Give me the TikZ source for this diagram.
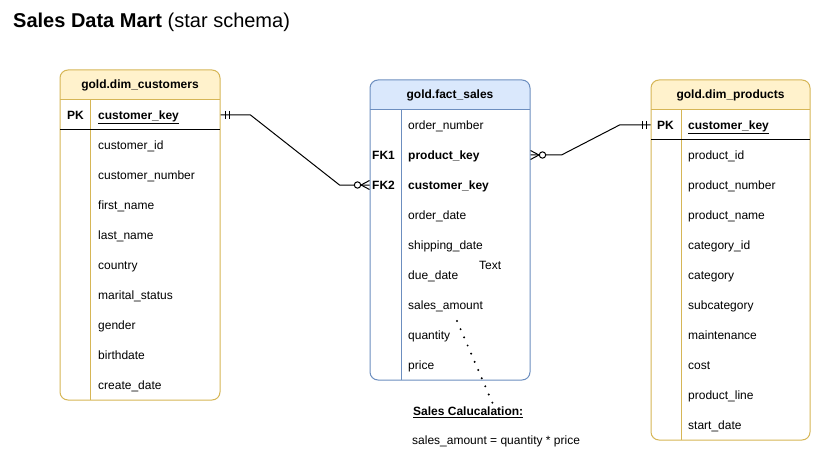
\documentclass[tikz,border=0pt]{standalone}
\usepackage{fontspec}
\setmainfont{Liberation Sans}
\usetikzlibrary{calc}
\definecolor{yfill}{HTML}{FFF2CC}
\definecolor{ybord}{HTML}{D6B656}
\definecolor{bfill}{HTML}{DAE8FC}
\definecolor{bbord}{HTML}{6C8EBF}
\tikzset{
  rowtxt/.style={anchor=base west, inner sep=0pt, font=\fontsize{12}{14}\selectfont},
  keytxt/.style={rowtxt, font=\fontsize{12}{14}\selectfont\bfseries},
  headtxt/.style={inner sep=0pt, font=\fontsize{12}{14}\selectfont\bfseries},
  tablebox/.style={rounded corners=8pt, inner sep=0pt, line width=1pt},
  rel/.style={line width=1pt, black},
}
\begin{document}
\begin{tikzpicture}[x=1pt, y=-1pt]
\useasboundingbox[fill=white] (0,0) rectangle (818,449);

% title
\node[anchor=base west, inner sep=0pt, font=\fontsize{20}{24}\selectfont] (title) at (13,27.5)
  {\textbf{Sales Data Mart} (star schema)};

% ---------- gold.dim_customers ----------
\begin{scope}
  \clip[rounded corners=8pt] (60,70) rectangle (220,400);
  \fill[yfill] (60,70) rectangle (220,100);
\end{scope}
\node[tablebox, draw=ybord, minimum width=160pt, minimum height=330pt] (cust) at (140,235) {};
\draw[ybord, line width=1pt] (60,100) -- (220,100);
\draw[ybord, line width=1pt] (90,100) -- (90,400);
\draw[black, line width=1pt] (60,130) -- (220,130);
\node[headtxt] (cust-h) at (140,85) {gold.dim\_customers};
\node[keytxt] (cust-pk) at (67,119.5) {PK};
\node[keytxt] (cust-key) at (98,119.5) {\underline{customer\_key}};
\foreach \t [count=\i] in {customer\_id, customer\_number, first\_name, last\_name, country,
  marital\_status, gender, birthdate, create\_date}
  \node[rowtxt] (cust-r\i) at (98,119.5+30*\i) {\t};

% ---------- gold.fact_sales ----------
\begin{scope}
  \clip[rounded corners=8pt] (370,80) rectangle (530,380);
  \fill[bfill] (370,80) rectangle (530,110);
\end{scope}
\node[tablebox, draw=bbord, minimum width=160pt, minimum height=300pt] (fact) at (450,230) {};
\draw[bbord, line width=1pt] (370,110) -- (530,110);
\draw[bbord, line width=1pt] (401,110) -- (401,380);
\node[headtxt] (fact-h) at (450,95) {gold.fact\_sales};
\node[rowtxt] (fact-r1) at (408,129.5) {order\_number};
\node[keytxt] (fact-fk1) at (372,159.5) {FK1};
\node[keytxt] (fact-pkey) at (408,159.5) {product\_key};
\node[keytxt] (fact-fk2) at (372,189.5) {FK2};
\node[keytxt] (fact-ckey) at (408,189.5) {customer\_key};
\foreach \t [count=\i] in {order\_date, shipping\_date, due\_date, sales\_amount, quantity, price}
  \node[rowtxt] (fact-s\i) at (408,189.5+30*\i) {\t};

% ---------- gold.dim_products ----------
\begin{scope}
  \clip[rounded corners=8pt] (651,80) rectangle (810,440);
  \fill[yfill] (651,80) rectangle (810,110);
\end{scope}
\node[tablebox, draw=ybord, minimum width=159pt, minimum height=360pt] (prod) at (730.5,260) {};
\draw[ybord, line width=1pt] (651,110) -- (810,110);
\draw[ybord, line width=1pt] (681,110) -- (681,440);
\draw[black, line width=1pt] (651,140) -- (810,140);
\node[headtxt] (prod-h) at (730.5,95) {gold.dim\_products};
\node[keytxt] (prod-pk) at (657,129.5) {PK};
\node[keytxt] (prod-key) at (688,129.5) {\underline{customer\_key}};
\foreach \t [count=\i] in {product\_id, product\_number, product\_name, category\_id, category,
  subcategory, maintenance, cost, product\_line, start\_date}
  \node[rowtxt] (prod-r\i) at (688,129.5+30*\i) {\t};

% loose label
\node[rowtxt] (lbl) at (479,269) {Text};

% ---------- relationships ----------
% customers (one) -- fact_sales (zero or many)
\coordinate (c1) at (cust.east |- 0,115);
\coordinate (f2) at (fact.west |- 0,185);
\draw[rel] (c1) -- ++(30,0) -- ($(f2)+(-30,0)$) -- (f2);
\draw[rel] ($(c1)+(4.5,-4)$) -- ++(0,8);
\draw[rel] ($(c1)+(8.5,-4)$) -- ++(0,8);
\draw[rel, fill=white] ($(f2)+(-12,0)$) circle (3.2);
\draw[rel] ($(f2)+(0,-4.5)$) -- ($(f2)+(-8.5,0)$) -- ($(f2)+(0,4.5)$);

% fact_sales (zero or many) -- products (one)
\coordinate (f1) at (fact.east |- 0,155);
\coordinate (p1) at (prod.west |- 0,125);
\draw[rel] (f1) -- ++(31,0) -- ($(p1)+(-31,0)$) -- (p1);
\draw[rel, fill=white] ($(f1)+(12,0)$) circle (3.2);
\draw[rel] ($(f1)+(0,-4.5)$) -- ($(f1)+(8.5,0)$) -- ($(f1)+(0,4.5)$);
\draw[rel] ($(p1)+(-8,-4)$) -- ++(0,8);
\draw[rel] ($(p1)+(-4.5,-4)$) -- ++(0,8);

% ---------- calculation note ----------
\node[anchor=base west, inner sep=0pt, font=\fontsize{12}{14}\selectfont\bfseries] (note-h) at (413,415.5)
  {\underline{Sales Calucalation:}};
\node[rowtxt] (note-t) at (412,444) {sales\_amount = quantity * price};
\coordinate (d1) at (457,321);
\coordinate (d2) at (492.5,403);
\draw[line width=2.2pt, line cap=round, dash pattern=on 0pt off 8.9pt] (d1) -- (d2);
\end{tikzpicture}
\end{document}
